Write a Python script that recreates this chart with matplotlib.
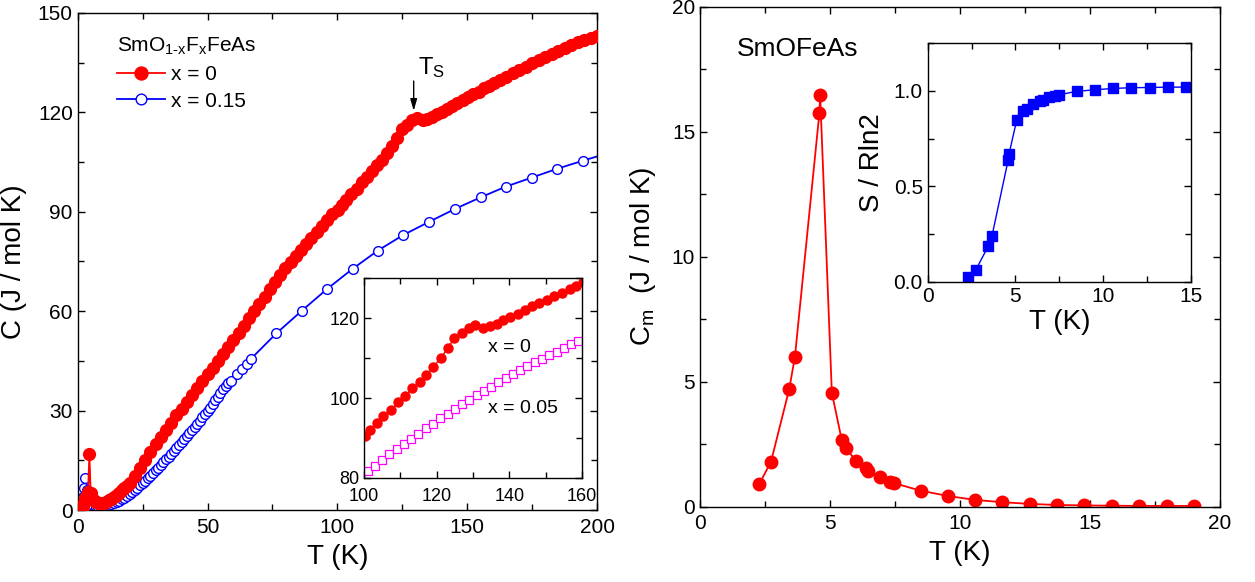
import matplotlib
matplotlib.use("Agg")
import matplotlib.pyplot as plt
from matplotlib.ticker import MultipleLocator

plt.rcParams["font.family"] = ["Liberation Sans", "DejaVu Sans"]
plt.rcParams["xtick.direction"] = "in"
plt.rcParams["ytick.direction"] = "in"
plt.rcParams["xtick.top"] = True
plt.rcParams["ytick.right"] = True
plt.rcParams["axes.linewidth"] = 1.0

# ---------------- data ----------------
# SmOFeAs (x = 0), total specific heat
t_x0 = [2.0, 2.5, 3.0, 3.5, 4.0, 4.5, 5.0, 5.5, 6.0, 6.5, 7.0, 8.0, 9.0,
        10, 11, 12, 13, 14, 15, 16, 17, 18, 19, 20, 22, 24, 26, 28, 30,
        32, 34, 36, 38, 40, 42, 44, 46, 48, 50, 52, 54, 56, 58, 60, 62,
        64, 66, 68, 70, 72, 74, 76, 78, 80, 82, 84, 86, 88, 90, 92, 94,
        96, 98, 100.3, 101.7, 103.5, 105.3, 107.4, 109.5, 111.3, 113.3,
        115.3, 117.1, 119.1, 121.1, 123.0, 124.9, 126.9, 128.8, 130.7,
        132.9, 134.7, 136.6, 138.4, 140.3, 142.4, 144.2, 146.2, 148.3,
        150.4, 152.4, 154.5, 156.6, 158.5, 160.4, 162.5, 165, 167.5, 170,
        172.5, 175, 177.5, 180, 182.5, 185, 187.5, 190, 192.5, 195, 197.5,
        200]
c_x0 = [1.0, 2.0, 3.5, 4.5, 5.5, 16.9, 5.0, 3.6, 3.0, 2.6, 2.4, 2.2, 2.1,
        2.2, 2.5, 2.9, 3.4, 4.0, 4.6, 5.2, 5.9, 6.6, 7.3, 8.0, 10.3, 12.6,
        15.0, 17.4, 19.8, 22.0, 24.2, 26.4, 28.6, 30.6, 32.6, 34.6, 36.7,
        38.8, 40.9, 43.0, 45.1, 47.2, 49.2, 51.3, 53.4, 55.6, 57.8, 60.0,
        62.2, 64.4, 66.6, 68.8, 71.0, 73.0, 74.9, 76.8, 78.6, 80.4, 82.2,
        84.0, 85.8, 87.6, 89.2, 90.4, 92.0, 93.7, 95.4, 97.0, 98.9, 100.5,
        102.4, 104.1, 105.7, 107.8, 109.9, 112.4, 115.0, 116.3, 117.6,
        118.2, 117.6, 117.9, 118.6, 119.4, 120.2, 121.1, 121.9, 122.9,
        123.7, 124.6, 125.4, 126.2, 127.3, 128.1, 128.9, 129.8, 130.8,
        131.8, 132.8, 133.8, 134.8, 135.8, 136.8, 137.7, 138.6, 139.5,
        140.3, 141.1, 141.8, 142.5, 143.2]

# SmO0.85F0.15FeAs (x = 0.15)
t_x15 = [1.5, 2.0, 2.5, 3.0, 3.5, 4.0, 4.5, 5.0, 6, 7, 8, 9, 10, 11, 12,
         13, 14, 15, 16, 17, 18, 19, 20, 21, 22, 23, 24, 25, 26, 27, 28,
         29, 30, 31, 32, 33, 34, 35, 36, 37, 38, 39, 40, 41, 42, 43, 44,
         45, 46, 47, 48, 49, 50, 51, 52, 53, 54, 55, 56, 57, 58, 59.0,
         61.2, 63.1, 65.1, 66.7, 76.5, 86.4, 96.2, 105.9, 115.6, 125.4,
         135.4, 145.4, 155.3, 164.9, 174.8, 184.7, 194.5, 204.3]
c_x15 = [2.5, 4.0, 6.5, 9.6, 6.0, 4.0, 3.0, 2.3, 1.5, 1.0, 0.8, 0.8, 0.9,
         1.1, 1.4, 1.7, 2.0, 2.4, 2.8, 3.2, 3.7, 4.2, 4.8, 5.4, 6.0, 6.7,
         7.4, 8.1, 8.8, 9.6, 10.4, 11.2, 12.0, 12.8, 13.6, 14.4, 15.3,
         16.1, 17.0, 17.9, 18.8, 19.7, 20.6, 21.5, 22.4, 23.3, 24.2, 25.2,
         26.1, 27.0, 28.0, 28.9, 29.9, 30.9, 32.0, 33.1, 34.2, 35.3, 36.4,
         37.4, 38.3, 39.0, 41.0, 42.6, 44.2, 45.6, 53.3, 60.2, 66.8, 72.8,
         78.3, 83.0, 87.0, 90.9, 94.4, 97.6, 100.3, 103.0, 105.4, 107.7]

# SmO0.95F0.05FeAs (x = 0.05), inset only
t_x05 = [101, 103, 105, 107, 109, 111, 113, 115, 117, 119, 121, 123, 125,
         127, 129, 131, 133, 135, 137, 139, 141, 143, 145, 147, 149, 151,
         153, 155, 157, 159]
c_x05 = [81.7, 83.1, 84.5, 85.9, 87.2, 88.5, 89.8, 91.1, 92.4, 93.6, 94.9,
         96.1, 97.2, 98.4, 99.5, 100.7, 101.8, 102.8, 103.9, 104.9, 106.0,
         107.0, 107.9, 108.9, 109.8, 110.8, 111.6, 112.5, 113.4, 114.2]

# magnetic specific heat of Sm and entropy
t_m = [2.28, 2.73, 3.43, 3.65, 4.59, 4.62, 5.07, 5.45, 5.62, 5.99, 6.37,
       6.47, 6.92, 7.31, 7.47, 8.49, 9.53, 10.58, 11.63, 12.69, 13.72,
       14.77, 15.83, 16.90, 17.95, 19.01]
c_m = [0.91, 1.80, 4.70, 6.00, 15.74, 16.47, 4.56, 2.67, 2.34, 1.84, 1.54,
       1.44, 1.18, 1.00, 0.94, 0.64, 0.43, 0.27, 0.18, 0.11, 0.07, 0.05,
       0.04, 0.03, 0.03, 0.03]
t_s = [2.31, 2.75, 3.45, 3.66, 4.59, 4.63, 5.07, 5.45, 5.64, 6.02, 6.39,
       6.55, 6.93, 7.25, 7.50, 8.48, 9.53, 10.53, 11.61, 12.66, 13.70,
       14.74]
s_rln2 = [0.026, 0.065, 0.187, 0.24, 0.64, 0.668, 0.846, 0.895, 0.904,
          0.930, 0.948, 0.953, 0.965, 0.974, 0.979, 0.997, 1.005, 1.012,
          1.016, 1.017, 1.019, 1.019]

RED = "#ff0000"
BLUE = "#0000ff"
MAGENTA = "#ff00ff"

fig = plt.figure(figsize=(12.55, 5.82), dpi=100)


def style(ax, size):
    ax.tick_params(which="both", labelsize=size, width=1.0)
    ax.tick_params(which="major", length=5)
    ax.tick_params(which="minor", length=4)


# ---------------- left panel ----------------
ax1 = fig.add_axes([0.0619, 0.1237, 0.4138, 0.8540])
l0, = ax1.plot(t_x0, c_x0, "-o", color=RED, ms=8.5, lw=1.3, label="x = 0",
               zorder=3)
l15, = ax1.plot(t_x15, c_x15, "-o", color=BLUE, mfc="white", ms=7,
                mew=1.0, lw=1.3, label="x = 0.15", zorder=2)
ax1.set_xlim(0, 200)
ax1.set_ylim(0, 150)
ax1.xaxis.set_major_locator(MultipleLocator(50))
ax1.xaxis.set_minor_locator(MultipleLocator(25))
ax1.yaxis.set_major_locator(MultipleLocator(30))
ax1.yaxis.set_minor_locator(MultipleLocator(15))
style(ax1, 15)
ax1.tick_params(axis="x", pad=6)
ax1.set_xlabel("T (K)", fontsize=20, labelpad=5)
ax1.set_ylabel("C (J / mol K)", fontsize=20, labelpad=8)

leg = ax1.legend(handles=[l0, l15], loc="upper left",
                 bbox_to_anchor=(0.075, 0.955), frameon=False, fontsize=15,
                 title="SmO$_{\\mathregular{1\u2010x}}$F$_{\\mathregular{x}}$FeAs",
                 title_fontsize=15, alignment="left", numpoints=1,
                 handlelength=2.3, handletextpad=0.3, borderpad=0,
                 borderaxespad=0, labelspacing=0.38, markerscale=1.1)

ax1.annotate("", xy=(129.4, 119.6), xytext=(129.4, 130.3),
             arrowprops=dict(arrowstyle="-|>,head_width=0.2,head_length=0.7",
                             color="black", lw=1.0))
ax1.text(131.0, 131.6, r"$\mathregular{T_S}$", fontsize=17)

# inset of left panel
ax1i = fig.add_axes([0.2900, 0.1787, 0.1737, 0.3436])
ax1i.plot(t_x0, c_x0, "-o", color=RED, ms=6.5, lw=1.0)
ax1i.plot(t_x05, c_x05, "-s", color=MAGENTA, mfc="white", ms=6, mew=0.9,
          lw=1.0)
ax1i.set_xlim(100, 160)
ax1i.set_ylim(80, 130)
ax1i.xaxis.set_major_locator(MultipleLocator(20))
ax1i.xaxis.set_minor_locator(MultipleLocator(10))
ax1i.yaxis.set_major_locator(MultipleLocator(20))
ax1i.yaxis.set_minor_locator(MultipleLocator(10))
style(ax1i, 13)
ax1i.tick_params(axis="x", pad=7)
ax1i.tick_params(axis="y", pad=3)
ax1i.text(134.2, 111.4, "x = 0", fontsize=14)
ax1i.text(134.2, 96.2, "x = 0.05", fontsize=14)

# ---------------- right panel ----------------
ax2 = fig.add_axes([0.5578, 0.1294, 0.4143, 0.8591])
ax2.plot(t_m, c_m, "-o", color=RED, ms=9, lw=1.3)
ax2.set_xlim(0, 20)
ax2.set_ylim(0, 20)
ax2.xaxis.set_major_locator(MultipleLocator(5))
ax2.xaxis.set_minor_locator(MultipleLocator(2.5))
ax2.yaxis.set_major_locator(MultipleLocator(5))
ax2.yaxis.set_minor_locator(MultipleLocator(2.5))
style(ax2, 15)
ax2.tick_params(axis="x", pad=5)
ax2.set_xlabel("T (K)", fontsize=20, labelpad=5)
ax2.set_ylabel(r"C$_\mathregular{m}$  (J / mol K)", fontsize=20, labelpad=10)
ax2.text(1.42, 18.03, "SmOFeAs", fontsize=19)

# inset of right panel
ax2i = fig.add_axes([0.7392, 0.5155, 0.2098, 0.4107])
ax2i.plot(t_s, s_rln2, "-s", color=BLUE, ms=6.5, lw=1.0)
ax2i.set_xlim(0, 15)
ax2i.set_ylim(0, 1.25)
ax2i.xaxis.set_major_locator(MultipleLocator(5))
ax2i.xaxis.set_minor_locator(MultipleLocator(2.5))
ax2i.yaxis.set_major_locator(MultipleLocator(0.5))
ax2i.yaxis.set_minor_locator(MultipleLocator(0.25))
style(ax2i, 15)
ax2i.set_xlabel("T (K)", fontsize=20, labelpad=2)
ax2i.set_ylabel("S / Rln2", fontsize=20, labelpad=6)

fig.savefig("out.png", dpi=100)
